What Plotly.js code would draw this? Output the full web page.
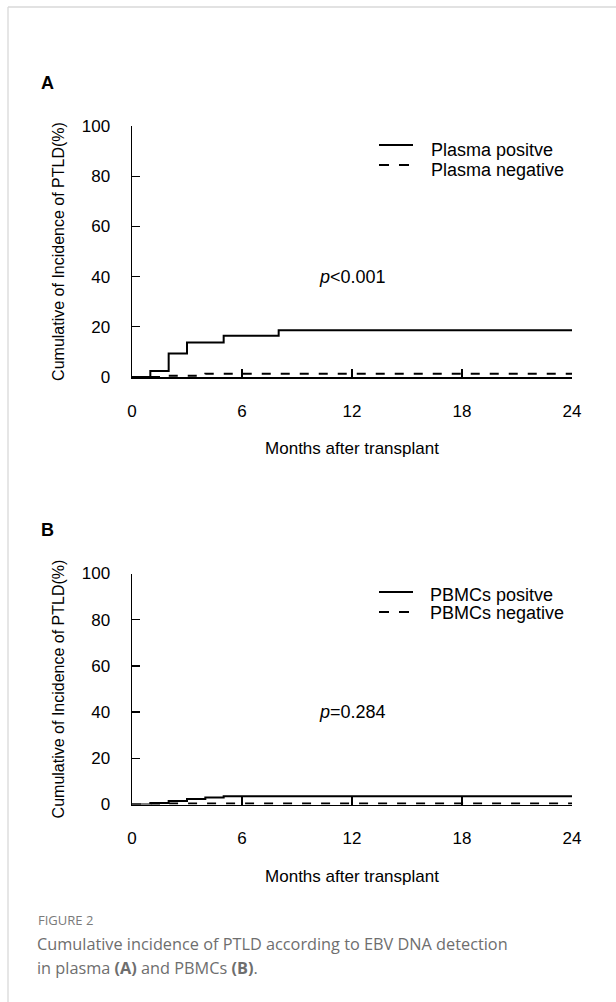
<!DOCTYPE html>
<html>
<head>
<meta charset="utf-8">
<script src="https://cdn.plot.ly/plotly-3.0.1.min.js"></script>
<style>
  html, body { margin: 0; padding: 0; background: #ffffff; }
  #chart { width: 616px; height: 1002px; }
</style>
</head>
<body>
<div id="chart"></div>
<script>
// ---- Data ----
const monthTicks = [0, 6, 12, 18, 24];
const incidenceTicks = [0, 20, 40, 60, 80, 100];

// Panel A: plasma
const plasmaPosMonths = [0, 1, 2, 3, 5, 8, 24];
const plasmaPosIncidence = [0, 2.4, 9.4, 13.7, 16.4, 18.6, 18.6];
const plasmaNegMonths = [0, 2, 4, 24];
const plasmaNegIncidence = [0, 0.5, 1.3, 1.3];

// Panel B: PBMCs
const pbmcPosMonths = [0, 1, 2, 3, 4, 5, 24];
const pbmcPosIncidence = [0, 0.6, 1.5, 2.4, 3.0, 3.6, 3.6];
const pbmcNegMonths = [0, 2, 24];
const pbmcNegIncidence = [0, 0.4, 0.4];

const legendA = ["Plasma positve", "Plasma negative"];
const legendB = ["PBMCs positve", "PBMCs negative"];
const pValueA = "<i>p</i><0.001";
const pValueB = "<i>p</i>=0.284";
const xTitle = "Months after transplant";
const yTitle = "Cumulative of Incidence of PTLD(%)";
const figLabel = "FIGURE 2";
const captionLines = [
  "Cumulative incidence of PTLD according to EBV DNA detection",
  "in plasma <b>(A)</b> and PBMCs <b>(B)</b>."
];

// ---- Helpers (pixel -> paper) ----
const W = 616, H = 1002;
const px = x => x / W;
const py = y => 1 - y / H;

const chartFont = "Liberation Sans, Arial, sans-serif";
const captionFont = "Open Sans, Lato, sans-serif";

function stepTrace(x, y, dashed, xa, ya) {
  return {
    x: x, y: y, xaxis: xa, yaxis: ya,
    type: "scatter", mode: "lines",
    line: { shape: "hv", color: "#000000", width: 2, dash: dashed ? "9px,10px" : "solid" },
    showlegend: false, hoverinfo: "skip"
  };
}

const traces = [
  stepTrace(plasmaPosMonths, plasmaPosIncidence, false, "x", "y"),
  stepTrace(plasmaNegMonths, plasmaNegIncidence, true, "x", "y"),
  stepTrace(pbmcPosMonths, pbmcPosIncidence, false, "x2", "y2"),
  stepTrace(pbmcNegMonths, pbmcNegIncidence, true, "x2", "y2")
];

function xAxis(anchor) {
  return {
    domain: [px(132), px(572)],
    anchor: anchor,
    range: [0, 24],
    tickmode: "array", tickvals: monthTicks, ticktext: monthTicks.map(String),
    ticks: "inside", ticklen: 8, tickwidth: 1.2, tickcolor: "#000",
    showline: true, linecolor: "#000", linewidth: 1.5,
    showgrid: false, zeroline: false,
    tickfont: { family: chartFont, size: 17, color: "#000" },
    ticklabelstandoff: 18,
    title: { text: xTitle, font: { family: chartFont, size: 17, color: "#000" }, standoff: 22 },
    fixedrange: true
  };
}
function yAxis(anchor, top, bottom) {
  return {
    domain: [py(bottom), py(top)],
    anchor: anchor,
    range: [0, 100],
    tickmode: "array", tickvals: incidenceTicks, ticktext: incidenceTicks.map(String),
    ticks: "inside", ticklen: 8, tickwidth: 1.2, tickcolor: "#000",
    showline: true, linecolor: "#000", linewidth: 1.5,
    showgrid: false, zeroline: false,
    tickfont: { family: chartFont, size: 17, color: "#000" },
    ticklabelstandoff: 17,
    title: { text: yTitle, font: { family: chartFont, size: 16, color: "#000" }, standoff: 13 },
    fixedrange: true
  };
}

function legendEntries(labels, rows, lineRows, textX) {
  const anns = [], shapes = [];
  labels.forEach((t, i) => {
    anns.push({
      xref: "paper", yref: "paper", x: px(textX), y: py(rows[i]),
      xanchor: "left", yanchor: "middle", showarrow: false, text: t,
      font: { family: chartFont, size: 18, color: "#000" }
    });
    shapes.push({
      type: "line", xref: "paper", yref: "paper",
      x0: px(379), x1: px(i === 0 ? 413 : 409), y0: py(lineRows[i]), y1: py(lineRows[i]),
      line: { color: "#000", width: 2, dash: i === 0 ? "solid" : "10px,10px" }
    });
  });
  return { anns, shapes };
}

const legA = legendEntries(legendA, [150, 170], [145, 165], 429);
const legB = legendEntries(legendB, [595, 613], [592, 612], 428);

const annotations = [
  { xref: "paper", yref: "paper", x: px(39), y: py(83), xanchor: "left", yanchor: "middle",
    showarrow: false, text: "<b>A</b>", font: { family: chartFont, size: 18, color: "#000" } },
  { xref: "paper", yref: "paper", x: px(39), y: py(530), xanchor: "left", yanchor: "middle",
    showarrow: false, text: "<b>B</b>", font: { family: chartFont, size: 18, color: "#000" } },
  { xref: "x", yref: "y", x: 12, y: 40, xanchor: "center", yanchor: "middle", showarrow: false,
    text: pValueA, font: { family: chartFont, size: 18, color: "#000" } },
  { xref: "x2", yref: "y2", x: 12, y: 40, xanchor: "center", yanchor: "middle", showarrow: false,
    text: pValueB, font: { family: chartFont, size: 18, color: "#000" } },
  { xref: "paper", yref: "paper", x: px(36), y: py(920), xanchor: "left", yanchor: "middle",
    showarrow: false, text: figLabel, font: { family: captionFont, size: 13, color: "#7a7a7a" } },
  { xref: "paper", yref: "paper", x: px(35), y: py(944), xanchor: "left", yanchor: "middle",
    showarrow: false, text: captionLines[0], font: { family: captionFont, size: 16.3, color: "#6e6e6e" } },
  { xref: "paper", yref: "paper", x: px(35), y: py(968), xanchor: "left", yanchor: "middle",
    showarrow: false, text: captionLines[1], font: { family: captionFont, size: 16.3, color: "#6e6e6e" } }
].concat(legA.anns, legB.anns);

const frameShapes = [
  { type: "line", xref: "paper", yref: "paper", x0: px(8), x1: px(616), y0: py(7), y1: py(7),
    line: { color: "#d9d9d9", width: 1.3 } },
  { type: "line", xref: "paper", yref: "paper", x0: px(8), x1: px(8), y0: py(7), y1: py(1002),
    line: { color: "#d9d9d9", width: 1.3 } }
];

const layout = {
  width: W, height: H, autosize: false,
  margin: { l: 0, r: 0, t: 0, b: 0, pad: 0 },
  paper_bgcolor: "#ffffff", plot_bgcolor: "rgba(0,0,0,0)",
  showlegend: false,
  xaxis: xAxis("y"),
  yaxis: yAxis("x", 126, 377),
  xaxis2: xAxis("y2"),
  yaxis2: yAxis("x2", 573.5, 804.5),
  annotations: annotations,
  shapes: frameShapes.concat(legA.shapes, legB.shapes)
};

Plotly.newPlot("chart", traces, layout, { staticPlot: true, displayModeBar: false });
</script>
</body>
</html>
